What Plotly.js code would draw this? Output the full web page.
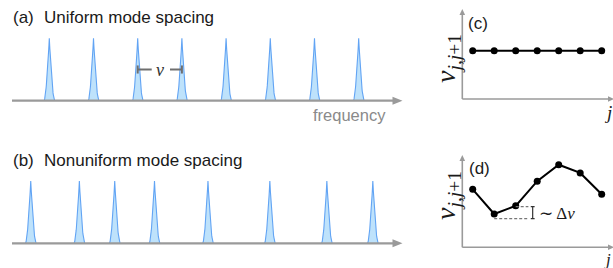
<!DOCTYPE html>
<html>
<head>
<meta charset="utf-8">
<script src="https://cdn.plot.ly/plotly-3.0.1.min.js"></script>
<style>html,body{margin:0;padding:0;background:#fff;}#chart{width:613px;height:268px;}</style>
</head>
<body>
<div id="chart"></div>
<script>
// ---- data ----
const uniformModes    = [1, 2, 3, 4, 5, 6, 7, 8];                       // mode frequencies, units of nu
const nonuniformModes = [0.58, 1.68, 2.48, 3.38, 4.59, 5.99, 7.28, 8.32];
const modeIndex       = [1, 2, 3, 4, 5, 6, 7];                           // j
const uniformSpacing  = [1, 1, 1, 1, 1, 1, 1];                           // nu_{j,j+1} panel (c)
const nonuniformSpacing = [1.10, 0.80, 0.90, 1.20, 1.40, 1.30, 1.04];    // nu_{j,j+1} panel (d)
const titleA = "Uniform mode spacing";
const titleB = "Nonuniform mode spacing";

// ---- helpers ----
const W = 613, H = 268;
const X = px => px / W;
const Y = py => 1 - py / H;

const fillBlue = "rgba(190,226,251,1)";
const lineBlue = "#62a4f4";
const axisGrey = "#9a9a9a";

function peakTrace(p, xa, ya) {
  // draw the shape of one narrow mode centred on p
  const w = 0.12, n = 30, xs = [], ys = [];
  for (let i = -n; i <= n; i++) {
    const u = i / n;
    xs.push(p + u * w);
    ys.push(Math.pow(1 - Math.abs(u), 1.7));
  }
  return {x: xs, y: ys, xaxis: xa, yaxis: ya, type: "scatter", mode: "lines",
          fill: "toself", fillcolor: fillBlue,
          line: {color: lineBlue, width: 1.1}, showlegend: false, hoverinfo: "skip"};
}

const traces = [];
uniformModes.forEach(p => traces.push(peakTrace(p, "x", "y")));
nonuniformModes.forEach(p => traces.push(peakTrace(p, "x2", "y2")));
traces.push({x: modeIndex, y: uniformSpacing, xaxis: "x3", yaxis: "y3", type: "scatter",
  mode: "lines+markers", line: {color: "#000", width: 2}, marker: {color: "#000", size: 7},
  showlegend: false, cliponaxis: false});
traces.push({x: modeIndex, y: nonuniformSpacing, xaxis: "x4", yaxis: "y4", type: "scatter",
  mode: "lines+markers", line: {color: "#000", width: 2}, marker: {color: "#000", size: 7},
  showlegend: false, cliponaxis: false});

const hidden = {showgrid: false, zeroline: false, showticklabels: false, showline: false, ticks: "", fixedrange: true};

// axes + arrowheads (paper coords)
const shapes = [];
function hline(px0, px1, py, w, c) {
  shapes.push({type: "line", xref: "paper", yref: "paper", x0: X(px0), x1: X(px1), y0: Y(py), y1: Y(py),
    line: {color: c, width: w}, layer: "above"});
}
function vline(px, py0, py1, w, c) {
  shapes.push({type: "line", xref: "paper", yref: "paper", x0: X(px), x1: X(px), y0: Y(py0), y1: Y(py1),
    line: {color: c, width: w}, layer: "above"});
}
function headRight(tipx, py, len, half, c) {
  shapes.push({type: "path", xref: "paper", yref: "paper",
    path: `M${X(tipx)},${Y(py)} L${X(tipx - len)},${Y(py - half)} L${X(tipx - len)},${Y(py + half)} Z`,
    fillcolor: c, line: {width: 0}, layer: "above"});
}
function headUp(px, tipy, len, half, c) {
  shapes.push({type: "path", xref: "paper", yref: "paper",
    path: `M${X(px)},${Y(tipy)} L${X(px - half)},${Y(tipy + len)} L${X(px + half)},${Y(tipy + len)} Z`,
    fillcolor: c, line: {width: 0}, layer: "above"});
}
// (a) and (b) frequency axes
hline(12, 394, 100.7, 2.2, axisGrey); headRight(402.5, 100.7, 10, 4, axisGrey);
hline(12, 394, 243.3, 2.2, axisGrey); headRight(402.5, 243.3, 10, 4, axisGrey);
// (c) axes
vline(462.3, 99, 14, 1.6, axisGrey); headUp(462.3, 9, 6, 2.8, axisGrey);
hline(462.3, 609, 99, 1.6, axisGrey); headRight(614, 99, 6, 2.8, axisGrey);
// (d) axes
vline(462.3, 247.3, 160, 1.6, axisGrey); headUp(462.3, 155, 6, 2.8, axisGrey);
hline(462.3, 609, 247.3, 1.6, axisGrey); headRight(614, 247.3, 6, 2.8, axisGrey);

// nu marker between modes 3 and 4 in panel (a)
const barGrey = "#6f6f6f";
const yb = 0.5, cap = 0.065;
shapes.push({type: "line", xref: "x", yref: "y", x0: 3, x1: 3.317, y0: yb, y1: yb, line: {color: barGrey, width: 2}});
shapes.push({type: "line", xref: "x", yref: "y", x0: 3.731, x1: 4, y0: yb, y1: yb, line: {color: barGrey, width: 2}});
shapes.push({type: "line", xref: "x", yref: "y", x0: 3, x1: 3, y0: yb - cap, y1: yb + cap, line: {color: barGrey, width: 2}});
shapes.push({type: "line", xref: "x", yref: "y", x0: 4, x1: 4, y0: yb - cap, y1: yb + cap, line: {color: barGrey, width: 2}});

// delta-nu marker in panel (d)
const dashGrey = "#777";
const dLow = 0.745, dHigh = 0.891, dEnd = 3.59, dBar = 3.79, dCap = 0.09;
shapes.push({type: "line", xref: "x4", yref: "y4", x0: 2, x1: dEnd, y0: dLow, y1: dLow, line: {color: dashGrey, width: 1.2, dash: "3px,2px"}});
shapes.push({type: "line", xref: "x4", yref: "y4", x0: 3, x1: dEnd, y0: dHigh, y1: dHigh, line: {color: dashGrey, width: 1.2, dash: "3px,2px"}});
shapes.push({type: "line", xref: "x4", yref: "y4", x0: dBar, x1: dBar, y0: dLow, y1: dHigh, line: {color: "#333", width: 1.2}});
shapes.push({type: "line", xref: "x4", yref: "y4", x0: dBar - dCap, x1: dBar + dCap, y0: dLow, y1: dLow, line: {color: "#333", width: 1.2}});
shapes.push({type: "line", xref: "x4", yref: "y4", x0: dBar - dCap, x1: dBar + dCap, y0: dHigh, y1: dHigh, line: {color: "#333", width: 1.2}});

const sans = "Liberation Sans, Arial, sans-serif";
const serif = "Liberation Serif, Times New Roman, serif";
function txt(text, px, py, size, opts = {}) {
  return Object.assign({text: text, xref: "paper", yref: "paper", x: X(px), y: Y(py),
    xanchor: "left", yanchor: "middle", showarrow: false,
    font: {family: sans, size: size, color: "#1a1a1a"}}, opts);
}
const annotations = [
  txt("(a)", 10.5, 17, 17),
  txt(titleA, 42, 17, 17),
  txt("(b)", 10.5, 160.5, 17),
  txt(titleB, 42, 160.5, 17),
  txt("frequency", 388, 114.5, 16.5, {xanchor: "right", font: {family: sans, size: 16.5, color: "#8a8a8a"}}),
  {text: "<i>ν</i>", xref: "x", yref: "y", x: 3.5, y: 0.5, showarrow: false, xanchor: "center", yanchor: "middle",
   font: {family: serif, size: 18, color: "#333"}},
  txt("(c)", 466, 23.5, 17),
  txt("(d)", 467, 168, 17),
  txt("<i>ν</i><sub><i>j</i>,<i>j</i>+1</sub>", 447, 59, 28, {xanchor: "center", textangle: -90, font: {family: serif, size: 28, color: "#1a1a1a"}}),
  txt("<i>ν</i><sub><i>j</i>,<i>j</i>+1</sub>", 447, 196, 28, {xanchor: "center", textangle: -90, font: {family: serif, size: 28, color: "#1a1a1a"}}),
  txt("<i>j</i>", 602, 113, 19, {font: {family: serif, size: 19, color: "#1a1a1a"}}),
  txt("<i>j</i>", 602, 259, 17, {font: {family: serif, size: 17, color: "#1a1a1a"}}),
  txt("∼ Δ<i>ν</i>", 537, 213.5, 17, {font: {family: serif, size: 17, color: "#1a1a1a"}})
];

const layout = {
  width: W, height: H, margin: {l: 0, r: 0, t: 0, b: 0},
  paper_bgcolor: "#fff", plot_bgcolor: "rgba(0,0,0,0)", showlegend: false,
  xaxis:  Object.assign({domain: [X(12), X(402)], range: [0.156, 8.98], anchor: "y"}, hidden),
  yaxis:  Object.assign({domain: [Y(104), Y(32)], range: [-0.053, 1.101], anchor: "x"}, hidden),
  xaxis2: Object.assign({domain: [X(12), X(402)], range: [0.156, 8.98], anchor: "y2"}, hidden),
  yaxis2: Object.assign({domain: [Y(247), Y(175)], range: [-0.059, 1.096], anchor: "x2"}, hidden),
  xaxis3: Object.assign({domain: [X(462.3), 1], range: [0.516, 7.526], anchor: "y3"}, hidden),
  yaxis3: Object.assign({domain: [Y(99), Y(9)], range: [0.412, 1.507], anchor: "x3"}, hidden),
  xaxis4: Object.assign({domain: [X(462.3), 1], range: [0.516, 7.526], anchor: "y4"}, hidden),
  yaxis4: Object.assign({domain: [Y(247.3), Y(155)], range: [0.395, 1.518], anchor: "x4"}, hidden),
  shapes: shapes,
  annotations: annotations
};

Plotly.newPlot("chart", traces, layout, {staticPlot: true, displayModeBar: false});
</script>
</body>
</html>
